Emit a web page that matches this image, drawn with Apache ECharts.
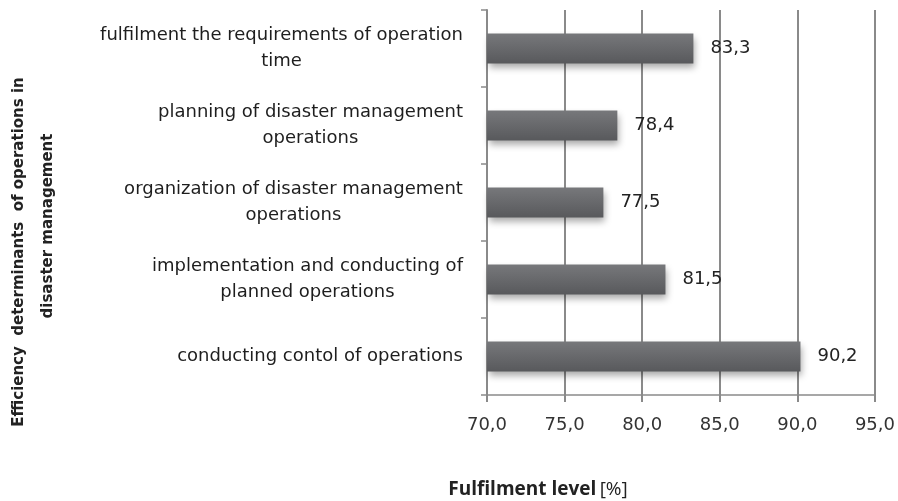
<!DOCTYPE html>
<html>
<head>
<meta charset="utf-8">
<script src="https://cdn.jsdelivr.net/npm/echarts@6/dist/echarts.min.js"></script>
<style>
html,body{margin:0;padding:0;background:#fff;}
#chart{width:898px;height:501px;}
</style>
</head>
<body>
<div id="chart"></div>
<script>
var categories = [
  'conducting contol of operations',
  'implementation and conducting of\nplanned operations',
  'organization of disaster management\noperations',
  'planning of disaster management\noperations',
  'fulfilment the requirements of operation\ntime'
];
var values = [90.2, 81.5, 77.5, 78.4, 83.3];
var xMin = 70, xMax = 95, xStep = 5;

var catFont = '18px "DejaVu Sans"';
var ctx = document.createElement('canvas').getContext('2d');
ctx.font = catFont;
var rich = {};
categories.forEach(function (c, i) {
  var w = 0;
  c.split('\n').forEach(function (l) { w = Math.max(w, ctx.measureText(l).width); });
  rich['c' + i] = { width: Math.ceil(w), align: 'center', fontSize: 18, fontFamily: 'DejaVu Sans', color: '#1e1e1e', lineHeight: 26 };
});

function fmt(v) { return v.toFixed(1).replace('.', ','); }

var chart = echarts.init(document.getElementById('chart'));
chart.setOption({
  animation: false,
  backgroundColor: '#fff',
  grid: { left: 487, right: 20, top: 10, bottom: 106 },
  xAxis: {
    type: 'value', min: xMin, max: xMax, interval: xStep,
    axisLine: { show: true, lineStyle: { color: '#8a8a8a', width: 1.5 } },
    axisTick: { show: true, length: 7, lineStyle: { color: '#8a8a8a', width: 2 } },
    splitLine: { show: true, lineStyle: { color: '#8a8a8a', width: 2 } },
    axisLabel: { formatter: function (v) { return fmt(v); }, margin: 21, fontSize: 18, fontFamily: 'DejaVu Sans', color: '#333' }
  },
  yAxis: {
    type: 'category', data: categories,
    axisLine: { show: true, lineStyle: { color: '#8a8a8a', width: 2 } },
    axisTick: { show: true, length: 6, lineStyle: { color: '#8a8a8a', width: 1.5 } },
    axisLabel: {
      margin: 24,
      formatter: function (v, i) {
        return v.split('\n').map(function (l) { return '{c' + i + '|' + l + '}'; }).join('\n');
      },
      rich: rich
    }
  },
  series: [{
    type: 'bar', data: values, barWidth: 30,
    itemStyle: {
      color: new echarts.graphic.LinearGradient(0, 0, 0, 1, [
        { offset: 0, color: '#77787b' },
        { offset: 1, color: '#58595c' }
      ]),
      shadowColor: 'rgba(0,0,0,0.35)', shadowBlur: 7, shadowOffsetX: 2, shadowOffsetY: 4
    },
    label: {
      show: true, position: 'right', distance: 17,
      formatter: function (p) { return fmt(p.value); },
      fontSize: 18, fontFamily: 'DejaVu Sans', color: '#222'
    }
  }],
  graphic: [
    { type: 'text', x: 19, y: 252, rotation: Math.PI / 2,
      style: { text: 'Efficiency  determinants  of operations in', font: 'bold 15px "DejaVu Sans"', fill: '#222', align: 'center', verticalAlign: 'middle' } },
    { type: 'text', x: 48, y: 226, rotation: Math.PI / 2,
      style: { text: 'disaster management', font: 'bold 15px "DejaVu Sans"', fill: '#222', align: 'center', verticalAlign: 'middle' } },
    { type: 'text', x: 538, y: 490,
      style: { text: '{b|Fulfilment level} {n|[%]}', align: 'center', verticalAlign: 'middle',
        rich: { b: { font: 'bold 19px "Open Sans"', fill: '#222' }, n: { font: '19px "Open Sans"', fill: '#222' } } } }
  ]
});
</script>
</body>
</html>
